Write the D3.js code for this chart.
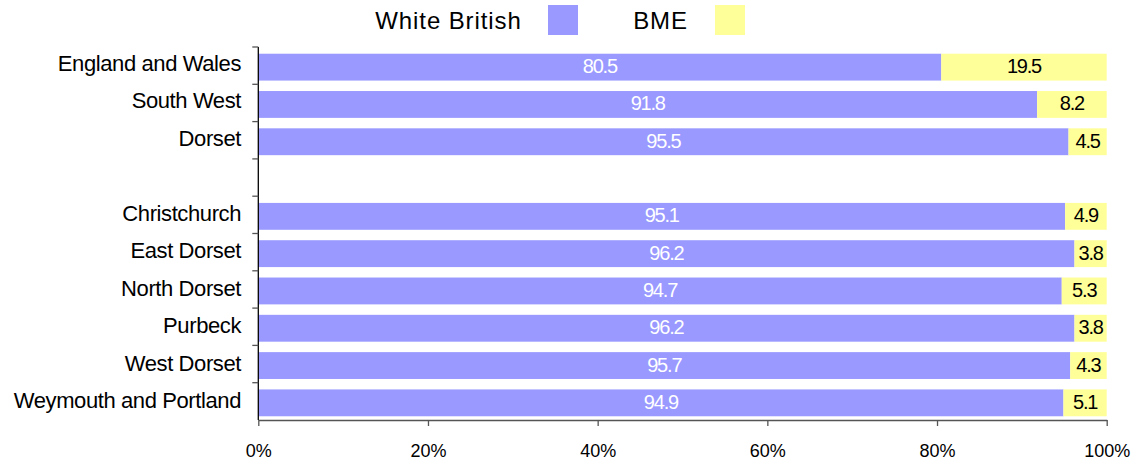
<!DOCTYPE html>
<html>
<head>
<meta charset="utf-8">
<script src="https://cdn.jsdelivr.net/npm/d3@7"></script>
<style>
  html, body { margin: 0; padding: 0; background: #fff; }
  svg { display: block; font-family: "Liberation Sans", Arial, sans-serif; }
</style>
</head>
<body>
<svg id="chart" width="1132" height="461"></svg>
<script>
// Areas (an empty string leaves a gap row between Dorset and its districts)
const areas = ["England and Wales", "South West", "Dorset", "",
  "Christchurch", "East Dorset", "North Dorset", "Purbeck", "West Dorset", "Weymouth and Portland"];
const whiteBritish = [80.5, 91.8, 95.5, null, 95.1, 96.2, 94.7, 96.2, 95.7, 94.9];
const bme = [19.5, 8.2, 4.5, null, 4.9, 3.8, 5.3, 3.8, 4.3, 5.1];
const seriesNames = ["White British", "BME"];
const seriesColors = ["#9999ff", "#ffff99"];
const labelColors = ["#ffffff", "#000000"];
const xTicks = [0, 20, 40, 60, 80, 100];

const svg = d3.select("#chart");
const plotLeft = 258.3, plotRight = 1106.7, plotTop = 47, plotBottom = 420;

const x = d3.scaleLinear().domain([0, 100]).range([plotLeft, plotRight]);
const bandKeys = areas.map((d, i) => i);
const y = d3.scaleBand().domain(bandKeys).range([plotTop, plotBottom]).paddingInner(0.28).paddingOuter(0.14);
const step = y.step();
// category label rows
const yLabel = d3.scaleBand().domain(bandKeys).range([44.3, 419.1]);

// Stacked segments with value labels centred in each segment
const rows = areas.map((a, i) => ({ i, vals: [whiteBritish[i], bme[i]] }));
rows.forEach(r => {
  if (r.vals[0] == null) return;
  let start = 0;
  r.vals.forEach((v, s) => {
    const x0 = x(start), x1 = x(start + v);
    const yb = y(r.i) + 1.5;
    svg.append("rect")
      .attr("x", x0).attr("y", yb)
      .attr("width", x1 - x0).attr("height", y.bandwidth())
      .attr("fill", seriesColors[s]);
    svg.append("text")
      .attr("x", (x0 + x1) / 2)
      .attr("y", yb + y.bandwidth() / 2)
      .attr("dy", "0.3em")
      .attr("text-anchor", "middle")
      .attr("font-size", 20)
      .attr("letter-spacing", -1.2)
      .attr("fill", labelColors[s])
      .text(v.toFixed(1));
    start += v;
  });
});

// Left axis with category labels
const yAxis = svg.append("g");
yAxis.append("line")
  .attr("x1", plotLeft).attr("x2", plotLeft).attr("y1", plotTop).attr("y2", plotBottom)
  .attr("stroke", "#000").attr("stroke-width", 1.3);
d3.range(areas.length).forEach(i => {
  const yy = plotTop + i * step;
  yAxis.append("line")
    .attr("x1", plotLeft - 6).attr("x2", plotLeft).attr("y1", yy).attr("y2", yy)
    .attr("stroke", "#555").attr("stroke-width", 1.3);
});
areas.forEach((a, i) => {
  if (!a) return;
  yAxis.append("text")
    .attr("x", 241)
    .attr("y", yLabel(i) + yLabel.bandwidth() / 2)
    .attr("dy", "0.36em")
    .attr("text-anchor", "end")
    .attr("font-size", 22)
    .attr("letter-spacing", -0.4)
    .attr("fill", "#000")
    .text(a);
});

// Bottom axis
const xAxis = svg.append("g")
  .attr("transform", `translate(0,${plotBottom})`)
  .call(d3.axisBottom(x).tickValues(xTicks).tickFormat(d => d + "%").tickSize(6).tickSizeOuter(0));
xAxis.select(".domain").attr("stroke", "#555").attr("stroke-width", 1.3);
xAxis.selectAll(".tick line").attr("stroke", "#555").attr("stroke-width", 1.3);
xAxis.selectAll(".tick text")
  .attr("y", 24)
  .attr("font-size", 18)
  .attr("font-family", "Liberation Sans, Arial, sans-serif")
  .attr("fill", "#000");

// Legend
const legend = [
  { name: seriesNames[0], tx: 448.5, sx: 548 },
  { name: seriesNames[1], tx: 660.5, sx: 715 }
];
legend.forEach((l, s) => {
  svg.append("text")
    .attr("x", l.tx).attr("y", 20).attr("dy", "0.36em")
    .attr("text-anchor", "middle")
    .attr("font-size", 24)
    .attr("letter-spacing", 0.9)
    .attr("fill", "#000")
    .text(l.name);
  svg.append("rect")
    .attr("x", l.sx).attr("y", 5).attr("width", 30).attr("height", 30)
    .attr("fill", seriesColors[s]);
});
</script>
</body>
</html>
